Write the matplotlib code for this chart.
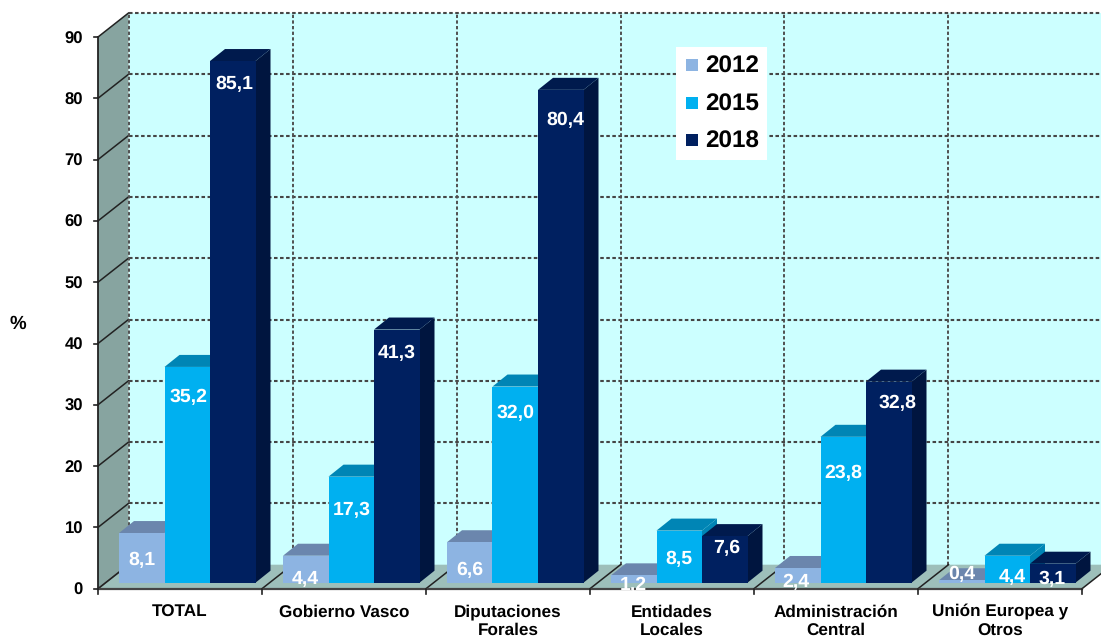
import matplotlib
matplotlib.use('Agg')
import matplotlib.pyplot as plt
from matplotlib.patches import Polygon, Rectangle

plt.rcParams['font.family'] = ['Liberation Sans', 'DejaVu Sans']
plt.rcParams['text.hinting'] = 'no_hinting'

# Data
categories = ['TOTAL', 'Gobierno Vasco', 'Diputaciones\nForales', 'Entidades\nLocales',
              'Administración\nCentral', 'Unión Europea y\nOtros']
years = ['2012', '2015', '2018']
v2012 = [8.1, 4.4, 6.6, 1.2, 2.4, 0.4]
v2015 = [35.2, 17.3, 32.0, 8.5, 23.8, 4.4]
v2018 = [85.1, 41.3, 80.4, 7.6, 32.8, 3.1]
yticks = list(range(0, 100, 10))

W, H = 1101, 637
X0, X1, Y0, Y90 = 98, 1082, 588.7, 37

fig = plt.figure(figsize=(W / 100, H / 100), dpi=100, facecolor='white')
ax = fig.add_axes([X0 / W, 1 - Y0 / H, (X1 - X0) / W, (Y0 - Y90) / H])
ax.set_xlim(0, 6)
ax.set_ylim(0, 90)
ax.patch.set_visible(False)
for s in ax.spines.values():
    s.set_visible(False)

# conversion of pixel offsets to data units
ux = 6 / (X1 - X0)
uy = 90 / (Y0 - Y90)
dx, dy = 30.5 * ux, 24 * uy       # depth of the box
oy = 6 * uy                       # front of bars inside the floor
bx, by = 15 * ux, 12 * uy         # depth of a bar
bw = 45.5 * ux
gap = 21 * ux


def poly(pts, color, z, **kw):
    ax.add_patch(Polygon(pts, closed=True, facecolor=color, edgecolor='none', zorder=z,
                         clip_on=False, **kw))


# walls and floor
xr = 6 + 40 * ux
poly([(dx, dy), (xr, dy), (xr, 90 + dy), (dx, 90 + dy)], '#ccffff', 1)
poly([(0, 0), (dx, dy), (dx, 90 + dy), (0, 90)], '#87a4a0', 1)
poly([(0, 0), (6, 0), (6 + dx, dy), (dx, dy)], '#9dbfba', 1)

# grid
grid = '#454545'
dash = (0, (1.7, 1.2))
for v in yticks:
    if v > 0:
        ax.plot([dx, xr], [v + dy, v + dy], color=grid, lw=1.5, ls=dash, zorder=2, clip_on=False)
    ax.plot([0, dx], [v, v + dy], color='#222222' if v else '#666666', lw=1.1, zorder=2, clip_on=False)
for i in range(7):
    ax.plot([i + dx, i + dx], [dy, 90 + dy], color='#505050', lw=1.4, ls=dash, zorder=2, clip_on=False)
    ax.plot([i, i + dx], [0, dy], color='#222222', lw=1.1, zorder=2, clip_on=False)

# bars
front = ['#8db4e2', '#00b0f0', '#002060']
top = ['#6b86ad', '#0085b5', '#001a4d']
side = ['#6b86ad', '#0085b5', '#00153f']
series = [v2012, v2015, v2018]
z = 3
for c in range(6):
    for k, vals in enumerate(series):
        v = vals[c]
        x = c + gap + k * bw
        poly([(x + bw, oy), (x + bw + bx, oy + by), (x + bw + bx, oy + by + v), (x + bw, oy + v)], side[k], z)
        poly([(x, oy + v), (x + bw, oy + v), (x + bw + bx, oy + v + by), (x + bx, oy + v + by)], top[k], z)
        ax.add_patch(Rectangle((x, oy), bw, v, facecolor=front[k], edgecolor='none', zorder=z + 0.1, clip_on=False))
        z += 0.2

# value labels (offset from top of the bar, in % units, and sideways in pixels)
off2012 = [-4.5, -3.9, -4.5, -1.6, -2.3, 1.0]
off2015 = [-4.9, -5.5, -4.4, -4.7, -6.0, -3.5]
off2018 = [-3.7, -3.9, -5.0, -2.0, -3.5, -2.6]
offs = [off2012, off2015, off2018]
side2012 = [0, 0, 0, 0, -2, 0]
side2015 = [1, 0, 0, 0, 0, 5]
side2018 = [2, 0, 5, 2, 9, -1]
sides = [side2012, side2015, side2018]
for c in range(6):
    for k, vals in enumerate(series):
        x = c + gap + k * bw + bw / 2 + sides[k][c] * ux
        ax.text(x, oy + vals[c] + offs[k][c], f'{vals[c]:.1f}'.replace('.', ','),
                color='white', fontweight='bold', fontsize=14, ha='center', va='center', zorder=20, clip_on=False)

# axes lines and ticks
ax.plot([0, 0], [0, 90], color='#222222', lw=1.3, zorder=6, clip_on=False)
ax.plot([0, 6], [0, 0], color='#444444', lw=1.6, zorder=6, clip_on=False)
for v in yticks:
    ax.plot([-4 * ux, 0], [v, v], color='#222222', lw=1.2, zorder=6, clip_on=False)
    ax.text(-15 * ux, v - 2 * uy, str(v), fontweight='bold', fontsize=12, ha='right', va='center', clip_on=False)
for i in range(7):
    ax.plot([i, i], [0, -5 * uy], color='#222222', lw=1.2, zorder=6, clip_on=False)
for i, name in enumerate(categories):
    ax.text(i + 0.5, -15.5 * uy, name, fontweight='bold', fontsize=12.3, ha='center', va='top',
            linespacing=1.24, clip_on=False)
ax.set_xticks([])
ax.set_yticks([])

fig.text(18 / W, 1 - 324 / H, '%', fontweight='bold', fontsize=13.5, ha='center', va='center')

# legend
lx0, lx1, ly0, ly1 = 676, 767, 47, 160
ax.add_patch(Rectangle(((lx0 - X0) * ux, (Y0 - ly1) * uy), (lx1 - lx0) * ux, (ly1 - ly0) * uy,
                       facecolor='white', edgecolor='none', zorder=30))
for k, yr in enumerate(years):
    yc = 65.5 + k * 37.5
    ax.add_patch(Rectangle(((686 - X0) * ux, (Y0 - yc - 6) * uy), 12 * ux, 12 * uy,
                           facecolor=front[k], edgecolor='none', zorder=31))
    ax.text((705 - X0) * ux, (Y0 - yc - 1.5) * uy, yr, fontweight='bold', fontsize=17.5, ha='left', va='center', zorder=31)

fig.savefig('out.png', dpi=100)
